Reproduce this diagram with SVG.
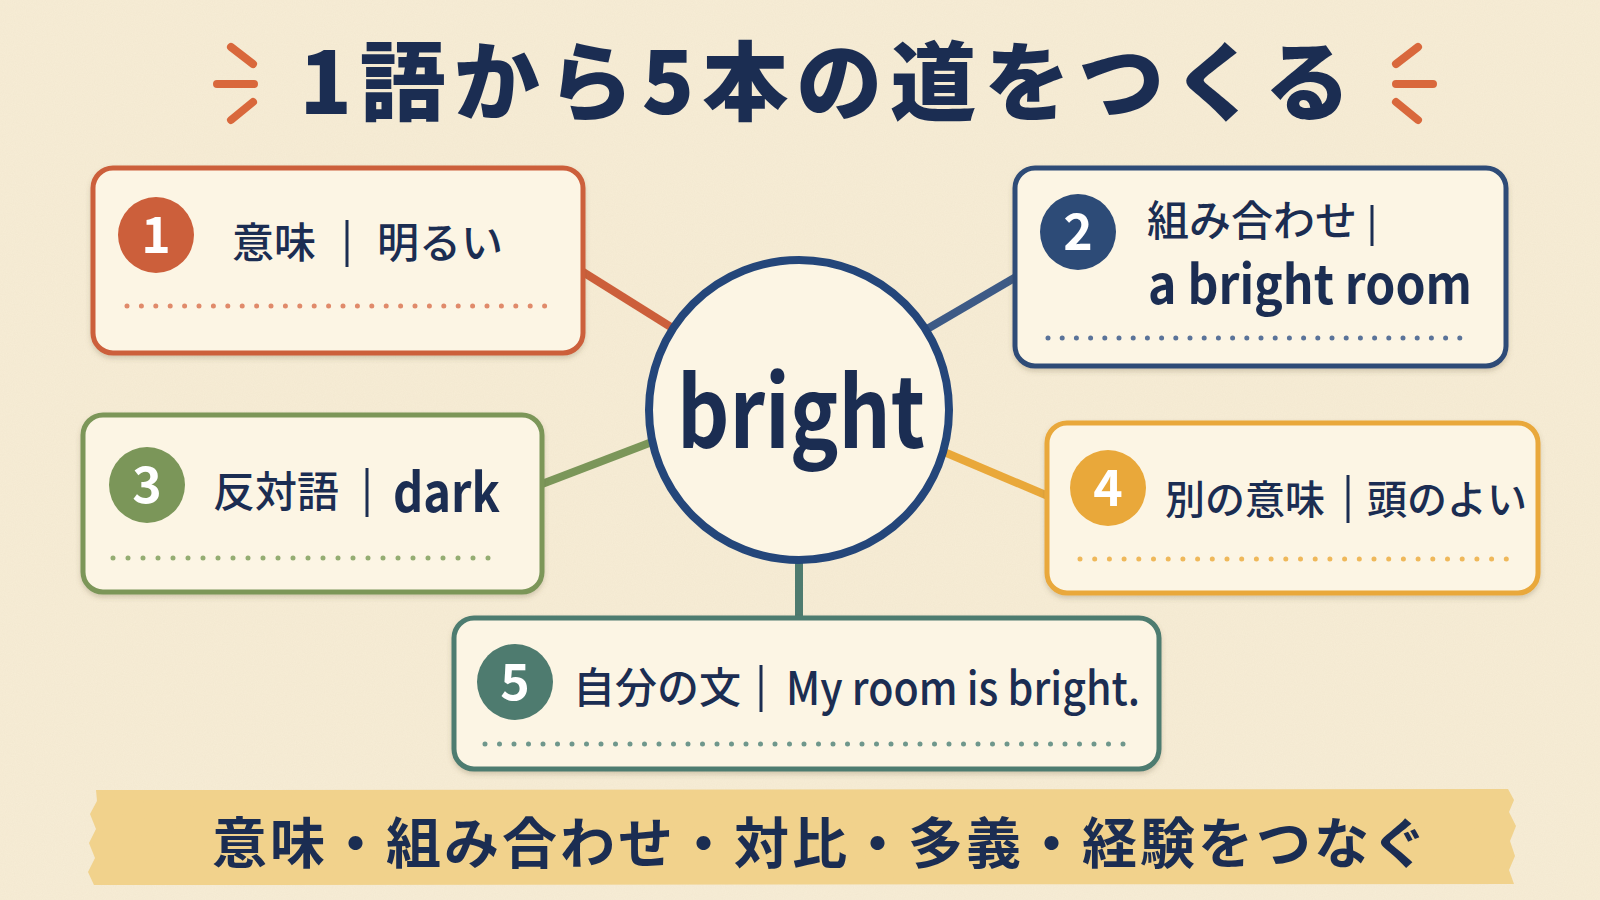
<svg xmlns="http://www.w3.org/2000/svg" width="1600" height="900" viewBox="0 0 1600 900">
<defs>
<filter id="paper" x="0" y="0" width="100%" height="100%">
<feTurbulence type="fractalNoise" baseFrequency="0.9" numOctaves="3" seed="4" result="n"/>
<feColorMatrix in="n" type="matrix" values="0 0 0 0 0.55  0 0 0 0 0.45  0 0 0 0 0.3  0 0 0 0.09 0"/>
</filter>
<filter id="shadow" x="-5%" y="-5%" width="110%" height="120%">
<feDropShadow dx="0" dy="3" stdDeviation="2.5" flood-color="#6b5a3a" flood-opacity="0.25"/>
</filter>
<style>
.box{fill:#fcf5e4;stroke-width:5}
.jp{font-family:"Noto Sans CJK JP","Noto Sans",sans-serif;fill:#1b2d52}
.lbl{font-size:42px;font-weight:500}
.en{font-weight:600}
.num{font-family:"Noto Sans CJK JP","Noto Sans",sans-serif;font-size:50px;font-weight:700;fill:#ffffff;text-anchor:middle}
.bar{stroke:#1b2d52;stroke-width:3}
.dots{stroke-width:5;stroke-linecap:round;fill:none}
.con{stroke-width:8;stroke-linecap:butt;fill:none}
.tick{stroke:#d9683c;stroke-width:8;stroke-linecap:round;fill:none}
</style>
</defs>
<rect width="1600" height="900" fill="#f7edd6"/>
<rect width="1600" height="900" filter="url(#paper)"/>

<g id="title">
<path class="tick" d="M231 47 L253 64 M217 84 L254 84 M231 120 L253 102"/>
<path class="tick" d="M1418 47 L1396 64 M1396 84 L1433 84 M1418 120 L1396 102"/>
<text class="jp" x="829" y="114" text-anchor="middle" font-size="86" font-weight="900" letter-spacing="8">1語から5本の道をつくる</text>
</g>

<g id="connectors">
<line class="con" stroke="#cc5f3b" x1="583" y1="272" x2="690" y2="339"/>
<line class="con" stroke="#3d5a86" x1="1016" y1="277" x2="910" y2="339"/>
<line class="con" stroke="#7b9659" x1="542" y1="484" x2="665" y2="437"/>
<line class="con" stroke="#e9a83a" x1="1048" y1="496" x2="930" y2="446"/>
<line class="con" stroke="#4e7b6f" stroke-width="9" x1="799" y1="550" x2="799" y2="620"/>
</g>

<g id="center">
<circle cx="799" cy="410" r="150" fill="#fcf5e4" stroke="#24467a" stroke-width="8"/>
<text class="jp" x="801" y="448" text-anchor="middle" font-size="98" font-weight="700" textLength="248" lengthAdjust="spacingAndGlyphs">bright</text>
</g>

<g id="node1">
<rect class="box" x="93" y="168" width="490" height="185" rx="20" stroke="#cc5f3b" filter="url(#shadow)"/>
<circle cx="156" cy="235" r="38" fill="#cc5f3b"/>
<text class="num" x="156" y="253">1</text>
<text class="jp lbl" x="232" y="258">意味</text>
<line class="bar" x1="347" y1="220" x2="347" y2="267"/>
<text class="jp lbl" x="377" y="258">明るい</text>
<line class="dots" stroke="#e08a6a" x1="127" y1="306" x2="545" y2="306" stroke-dasharray="0 14.4"/>
</g>

<g id="node2">
<rect class="box" x="1015" y="168" width="491" height="198" rx="20" stroke="#2d4b77" filter="url(#shadow)"/>
<circle cx="1078" cy="232" r="38" fill="#2d4b77"/>
<text class="num" x="1078" y="250">2</text>
<text class="jp lbl" x="1147" y="236" font-size="40">組み合わせ</text>
<line class="bar" x1="1372" y1="205" x2="1372" y2="246"/>
<text class="jp en" x="1148" y="304" font-size="53" textLength="324" lengthAdjust="spacingAndGlyphs">a bright room</text>
<line class="dots" stroke="#5a7399" x1="1048" y1="338" x2="1474" y2="338" stroke-dasharray="0 14.2"/>
</g>

<g id="node3">
<rect class="box" x="83" y="415" width="459" height="177" rx="20" stroke="#7b9659" filter="url(#shadow)"/>
<circle cx="147" cy="485" r="38" fill="#7b9659"/>
<text class="num" x="147" y="503">3</text>
<text class="jp lbl" x="213" y="507">反対語</text>
<line class="bar" x1="367" y1="468" x2="367" y2="517"/>
<text class="jp en" x="393" y="512" font-size="54" textLength="107" lengthAdjust="spacingAndGlyphs">dark</text>
<line class="dots" stroke="#94ad72" x1="113" y1="558" x2="503" y2="558" stroke-dasharray="0 15"/>
</g>

<g id="node4">
<rect class="box" x="1047" y="423" width="491" height="170" rx="20" stroke="#e9a83a" filter="url(#shadow)"/>
<circle cx="1108" cy="488" r="38" fill="#e9a83a"/>
<text class="num" x="1108" y="506">4</text>
<text class="jp" x="1165" y="514" font-size="40" font-weight="500">別の意味</text>
<line class="bar" x1="1348" y1="475" x2="1348" y2="523"/>
<text class="jp" x="1367" y="514" font-size="40" font-weight="500">頭のよい</text>
<line class="dots" stroke="#efb85a" x1="1080" y1="559" x2="1507" y2="559" stroke-dasharray="0 14.7"/>
</g>

<g id="node5">
<rect class="box" x="454" y="618" width="705" height="151" rx="20" stroke="#4e7b6f" filter="url(#shadow)"/>
<circle cx="515" cy="682" r="38" fill="#4e7b6f"/>
<text class="num" x="515" y="700">5</text>
<text class="jp lbl" x="573" y="703">自分の文</text>
<line class="bar" x1="761" y1="665" x2="761" y2="712"/>
<text class="jp" x="786" y="705" font-size="46" font-weight="500" textLength="354" lengthAdjust="spacingAndGlyphs">My room is bright.</text>
<line class="dots" stroke="#6f978c" x1="485" y1="744" x2="1136" y2="744" stroke-dasharray="0 14.5"/>
</g>

<g id="banner">
<path d="M96 790 L1508 789 L1514 800 L1509 812 L1516 826 L1510 841 L1515 856 L1509 870 L1514 884 L94 885 L88 872 L95 858 L89 843 L96 829 L90 814 L97 801 Z" fill="#f0cf86" opacity="0.92"/>
<text class="jp" x="821" y="863" text-anchor="middle" font-size="55" font-weight="700" letter-spacing="3">意味・組み合わせ・対比・多義・経験をつなぐ</text>
</g>
</svg>
